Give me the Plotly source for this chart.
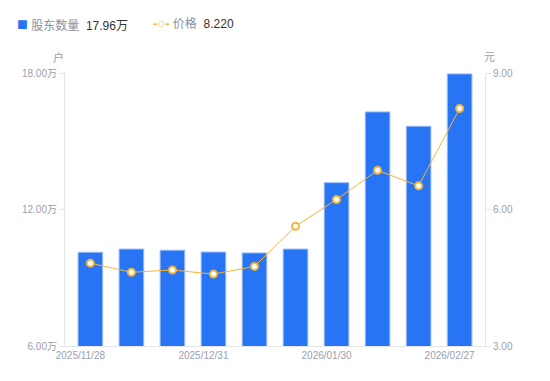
import plotly.graph_objects as go

dates = ["2025/11/28", "2025/12/10", "2025/12/19", "2025/12/31", "2026/01/09",
         "2026/01/20", "2026/01/30", "2026/02/10", "2026/02/13", "2026/02/27"]
holders = [10.12, 10.26, 10.21, 10.13, 10.09, 10.26, 13.18, 16.29, 15.66, 17.96]  # 万户
price = [4.82, 4.62, 4.67, 4.58, 4.75, 5.63, 6.22, 6.86, 6.52, 8.22]  # 元
shown_dates = ["2025/11/28", "2025/12/31", "2026/01/30", "2026/02/27"]
left_ticks = [6, 12, 18]
right_ticks = [3, 6, 9]

FONT = "Liberation Sans, Noto Sans CJK SC, sans-serif"
GRAY = "#9a9eb0"
LEG = "#8a8fa0"
AXIS = "#e3e5ea"
BLUE = "#2775f5"
ORANGE = "#f7b538"

fig = go.Figure()
fig.add_trace(go.Bar(
    x=dates, y=holders, name="股东数量",
    marker=dict(color=BLUE, line=dict(color="#9bbcf7", width=1)),
    yaxis="y",
))
fig.add_trace(go.Scatter(
    x=dates, y=price, mode="lines+markers", name="价格",
    line=dict(color=ORANGE, width=1),
    marker=dict(symbol="circle", size=7, color="white", line=dict(color=ORANGE, width=2)),
    yaxis="y2",
))

# legend drawn as text (name + latest value)
leg1 = (f"<span style='color:{BLUE};font-size:18px'>■</span> "
        f"股东数量  <span style='color:#333333'>{holders[-1]:.2f}万</span>")
leg2 = (f"<span style='color:{ORANGE};font-size:13px'><b>-○-</b></span> "
        f"价格  <span style='color:#333333'>{price[-1]:.3f}</span>")

# the page body has an 8px margin, so the figure is drawn 8px smaller
fig.update_layout(
    width=542, height=373,
    margin=dict(l=57, r=65, t=65, b=35, autoexpand=False),
    plot_bgcolor="white", paper_bgcolor="white",
    font=dict(family=FONT, size=10, color=GRAY),
    bargap=0.4,
    showlegend=False,
    xaxis=dict(
        type="category", showgrid=False, showline=True, linecolor=AXIS, linewidth=1,
        tickmode="array", tickvals=shown_dates, ticktext=shown_dates, automargin=False,
        ticks="", tickfont=dict(size=10, color=GRAY), ticklabelshift=-10,
    ),
    yaxis=dict(
        range=[6, 18], tickvals=left_ticks, ticktext=[f"{v:.2f}万" for v in left_ticks],
        showgrid=False, zeroline=False, showline=True, linecolor=AXIS, linewidth=1,
        automargin=False,
        ticks="outside", ticklen=5, tickcolor=AXIS, tickfont=dict(size=10, color=GRAY),
    ),
    yaxis2=dict(
        range=[3, 9], tickvals=right_ticks, ticktext=[f"{v:.2f}" for v in right_ticks],
        overlaying="y", side="right", automargin=False,
        showgrid=False, zeroline=False, showline=True, linecolor=AXIS, linewidth=1,
        ticks="outside", ticklen=5, tickcolor=AXIS, tickfont=dict(size=10, color=GRAY),
    ),
    annotations=[
        dict(text=leg1, xref="paper", yref="paper", x=-0.119, y=1.18,
             showarrow=False, xanchor="left", yanchor="middle",
             font=dict(size=12, color=LEG)),
        dict(text=leg2, xref="paper", yref="paper", x=0.2045, y=1.18,
             showarrow=False, xanchor="left", yanchor="middle",
             font=dict(size=12, color=LEG)),
        dict(text="户", xref="paper", yref="paper", x=-0.015, y=1.0, yshift=16,
             showarrow=False, xanchor="center", yanchor="middle",
             font=dict(size=11, color=GRAY)),
        dict(text="元", xref="paper", yref="paper", x=1.01, y=1.0, yshift=16,
             showarrow=False, xanchor="center", yanchor="middle",
             font=dict(size=11, color=GRAY)),
    ],
)

fig.write_html("out.html")
